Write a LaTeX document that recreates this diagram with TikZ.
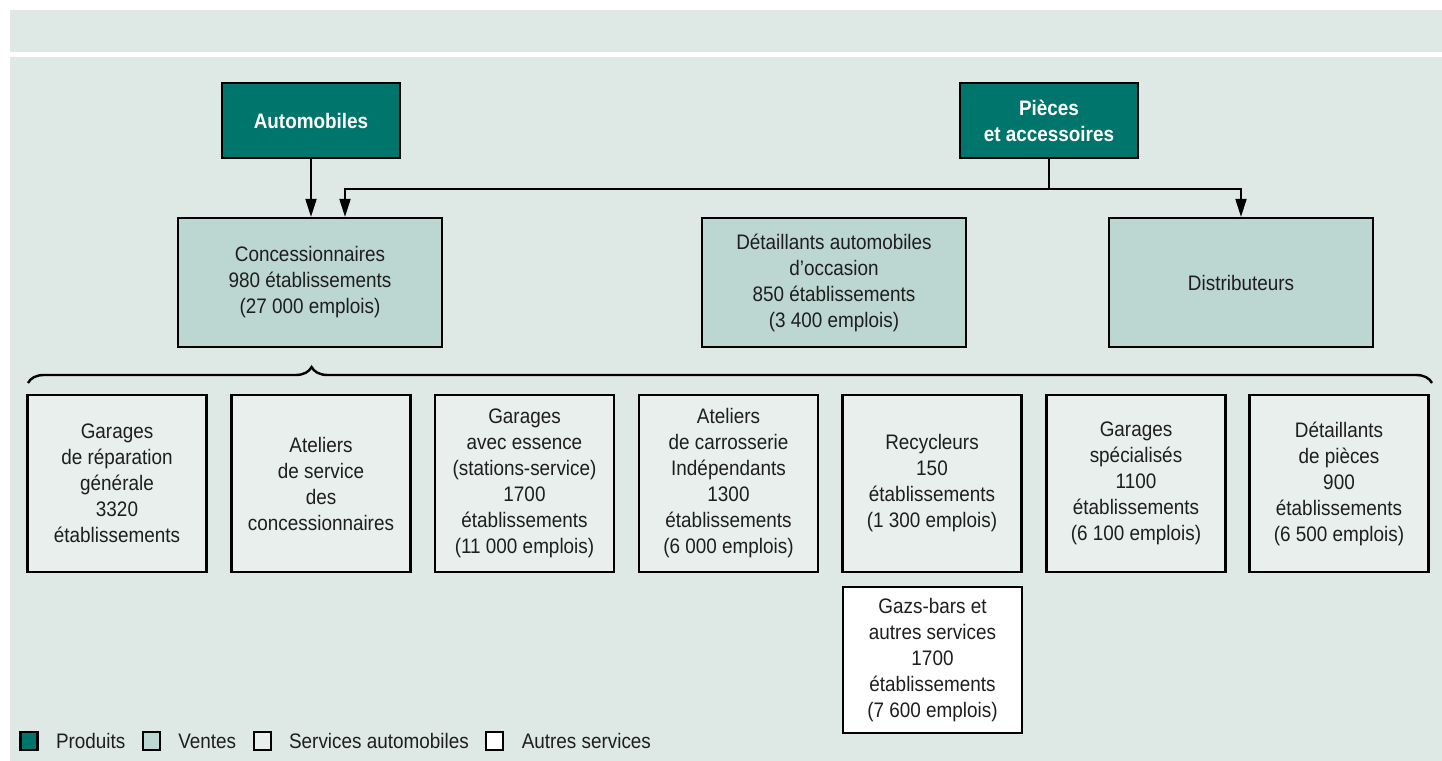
\documentclass[tikz,border=0pt]{standalone}
\usepackage{fontspec}
\setmainfont{Liberation Sans}[FakeStretch=0.9]
\usepackage{tikz}
\usetikzlibrary{positioning,arrows.meta,decorations.pathreplacing}
\definecolor{produit}{RGB}{0,117,107}
\definecolor{vente}{RGB}{188,214,209}
\definecolor{service}{RGB}{232,239,237}
\definecolor{fond}{RGB}{222,233,230}
\definecolor{texte}{RGB}{30,30,30}

\begin{document}
\begin{tikzpicture}[x=0.5pt,y=-0.5pt,
    boxbase/.style={draw=black, line width=1.1pt, align=center, inner sep=0pt, text=texte,
        font=\fontsize{10.5}{13}\selectfont},
    produitbox/.style={boxbase, fill=produit, text=white, font=\bfseries\fontsize{10.5}{13}\selectfont,
        minimum width=89pt, minimum height=37.5pt},
    ventebox/.style={boxbase, fill=vente, minimum width=132pt, minimum height=64.5pt},
    servicebox/.style={boxbase, fill=service, minimum width=89.5pt, minimum height=88.5pt},
    autrebox/.style={boxbase, fill=white, minimum width=89.5pt, minimum height=73pt},
    fleche/.style={line width=0.9pt, -{Triangle[length=9pt,width=5.5pt]}},
    legsq/.style={draw=black, line width=1.1pt, minimum width=8.5pt, minimum height=9pt, inner sep=0pt},
    legtext/.style={inner sep=0pt, text=texte, font=\fontsize{10.5}{12}\selectfont}]
    % Background
    \useasboundingbox (0,0) rectangle (1442,761);
    \fill[white] (0,0) rectangle (1442,761);
    \fill[fond] (10,10) rectangle (1442,52);
    \fill[fond] (10,57) rectangle (1442,761);
    % Products
    \node[produitbox] (auto) at (311,120.5) {Automobiles};
    \node[produitbox] (pieces) at (1049,120.5) {Pièces\\et accessoires};
    % Sales
    \node[ventebox] (conc) at (310,282.5) {Concessionnaires\\980 établissements\\(27 000 emplois)};
    \node[ventebox] (occas) at (834,282.5) {Détaillants automobiles\\d’occasion\\850 établissements\\(3 400 emplois)};
    \node[ventebox] (distr) at (1241,282.5) {Distributeurs};
    % Arrows
    \draw[fleche] (auto) -- (auto |- conc.north);
    \draw[line width=0.9pt] (pieces.south) -- ++(0,30) coordinate (split);
    \draw[fleche] (split) -| ([xshift=17.5pt]conc.north);
    \draw[fleche] (split) -| (distr.north);
    % Brace
    \coordinate (bracel) at (28,383);
    \coordinate (bracer) at (1432,383);
    \draw[line width=1.2pt, decorate, decoration={brace, amplitude=8pt, aspect=0.202}] (bracel) -- (bracer);
    % Car services
    \node[servicebox] (repar) at (117,483.5) {Garages\\de réparation\\générale\\3320\\établissements};
    \node[servicebox] (atel) at (321,483.5) {Ateliers\\de service\\des\\concessionnaires};
    \node[servicebox] (essence) at (524.5,483.5) {Garages\\avec essence\\(stations-service)\\1700\\établissements\\(11 000 emplois)};
    \node[servicebox] (carros) at (728.5,483.5) {Ateliers\\de carrosserie\\Indépendants\\1300\\établissements\\(6 000 emplois)};
    \node[servicebox] (recyc) at (932,483.5) {Recycleurs\\150\\établissements\\(1 300 emplois)};
    \node[servicebox] (special) at (1136,483.5) {Garages\\spécialisés\\1100\\établissements\\(6 100 emplois)};
    \node[servicebox] (detpieces) at (1339,483.5) {Détaillants\\de pièces\\900\\établissements\\(6 500 emplois)};
    % Other services
    \node[autrebox] (gaz) at (932.5,660) {Gazs-bars et\\autres services\\1700\\établissements\\(7 600 emplois)};
    % Legend
    \node[legsq, fill=produit] (lgprod) at (29,741) {};
    \node[legtext, right=8.5pt of lgprod] (lgprodt) {Produits};
    \node[legsq, fill=vente, right=8pt of lgprodt] (lgvente) {};
    \node[legtext, right=8.5pt of lgvente] (lgventet) {Ventes};
    \node[legsq, fill=service, right=8pt of lgventet] (lgserv) {};
    \node[legtext, right=8.5pt of lgserv] (lgservt) {Services automobiles};
    \node[legsq, fill=white, right=8pt of lgservt] (lgautre) {};
    \node[legtext, right=8.5pt of lgautre] (lgautret) {Autres services};
\end{tikzpicture}
\end{document}
